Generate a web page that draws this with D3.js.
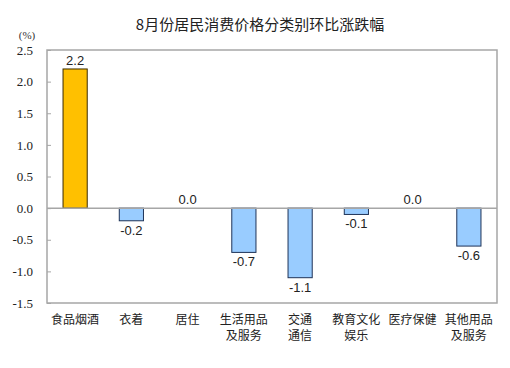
<!DOCTYPE html>
<html><head><meta charset="utf-8">
<script src="https://cdn.jsdelivr.net/npm/d3@7"></script>
<style>body{margin:0;background:#fff}</style>
</head><body>
<svg id="c" width="510" height="368"></svg>
<script>
const categories = [["食品烟酒"],["衣着"],["居住"],["生活用品","及服务"],["交通","通信"],["教育文化","娱乐"],["医疗保健"],["其他用品","及服务"]];
const values = [2.2, -0.2, 0.0, -0.7, -1.1, -0.1, 0.0, -0.6];
const yTicks = [2.5, 2.0, 1.5, 1.0, 0.5, 0.0, -0.5, -1.0, -1.5];
const title = "8月份居民消费价格分类别环比涨跌幅";
const unit = "(%)";

const fmt = d => d3.format(".1f")(d).replace("\u2212", "-");
const svg = d3.select("#c");
const L = 47, R = 497, T = 50, B = 303;
const x = d3.scaleBand().domain(d3.range(categories.length)).range([L, R]).paddingInner(0.57).paddingOuter(0.285);
const y = d3.scaleLinear().domain([-1.5, 2.5]).range([B, T]);

svg.append("text").attr("x", 260).attr("y", 30).attr("text-anchor", "middle")
  .attr("font-family", "Noto Sans CJK SC").attr("font-size", 15).attr("fill", "#222").text(title);
svg.append("text").attr("x", 27).attr("y", 39).attr("text-anchor", "middle")
  .attr("font-family", "Liberation Serif").attr("font-size", 11).attr("fill", "#333").text(unit);

// frame
svg.append("rect").attr("x", L).attr("y", T).attr("width", R - L).attr("height", B - T)
  .attr("fill", "none").attr("stroke", "#a6a6a6").attr("stroke-width", 1.5);

const axis = d3.axisLeft(y).tickValues(yTicks).tickFormat(fmt).tickSize(-4).tickPadding(14);
const ga = svg.append("g").attr("transform", `translate(${L},0)`).call(axis);
ga.select(".domain").remove();
ga.selectAll(".tick line").attr("stroke", "#a6a6a6");
ga.selectAll(".tick text").attr("font-family", "Liberation Serif").attr("font-size", 13).attr("fill", "#222");

// bars
svg.append("g").selectAll("rect").data(values).join("rect")
  .attr("x", (d, i) => x(i)).attr("width", x.bandwidth())
  .attr("y", d => y(Math.max(0, d))).attr("height", d => Math.abs(y(d) - y(0)))
  .attr("fill", (d, i) => i === 0 ? "#FFC000" : "#99CCFF")
  .attr("stroke", (d, i) => i === 0 ? "#3a2a00" : "#1f3358").attr("stroke-width", 1)
  .attr("display", d => d === 0 ? "none" : null);

// zero line
svg.append("line").attr("x1", L).attr("x2", R).attr("y1", y(0)).attr("y2", y(0))
  .attr("stroke", "#a6a6a6").attr("stroke-width", 1.5);

// value labels
svg.append("g").selectAll("text").data(values).join("text")
  .attr("x", (d, i) => x(i) + x.bandwidth() / 2)
  .attr("y", d => d >= 0 ? y(d) - 4 : y(d) + 14)
  .attr("text-anchor", "middle").attr("font-family", "Liberation Sans").attr("font-size", 13).attr("fill", "#222")
  .text(fmt);

// category labels
const gc = svg.append("g");
categories.forEach((lines, i) => {
  lines.forEach((s, j) => {
    gc.append("text").attr("x", x(i) + x.bandwidth() / 2).attr("y", 324 + j * 16)
      .attr("text-anchor", "middle").attr("font-family", "Noto Sans CJK SC").attr("font-size", 12).attr("fill", "#222").text(s);
  });
});
</script>
</body></html>
